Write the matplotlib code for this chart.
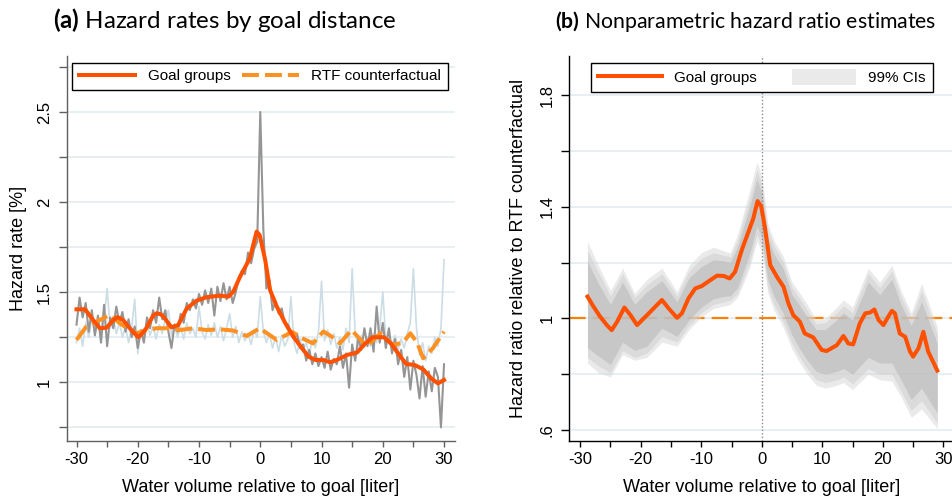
import numpy as np
import matplotlib
matplotlib.use("Agg")
import matplotlib.pyplot as plt
from matplotlib.lines import Line2D
from matplotlib.patches import Patch

plt.rcParams['font.family'] = ['Liberation Sans', 'DejaVu Sans']
plt.rcParams['mathtext.fontset'] = 'custom'
plt.rcParams['mathtext.rm'] = 'Lato'
plt.rcParams['mathtext.bf'] = 'Lato:bold'

# ---------------- Panel (a) data ----------------
raw_x = np.linspace(-30, 30, 121)
goal_raw = [1.32, 1.47, 1.36, 1.44, 1.28, 1.40, 1.26, 1.37, 1.22, 1.43, 1.20, 1.36, 1.30, 1.42,
            1.33, 1.39, 1.28, 1.35, 1.25, 1.31, 1.19, 1.29, 1.22, 1.36, 1.30, 1.40, 1.33, 1.47,
            1.35, 1.40, 1.28, 1.19, 1.32, 1.28, 1.38, 1.33, 1.44, 1.40, 1.46, 1.41, 1.49, 1.43,
            1.51, 1.44, 1.52, 1.37, 1.53, 1.45, 1.55, 1.46, 1.53, 1.44, 1.50, 1.58, 1.62, 1.60,
            1.72, 1.66, 1.74, 1.78, 2.50, 1.85, 1.52, 1.57, 1.40, 1.45, 1.38, 1.41, 1.33, 1.32,
            1.28, 1.24, 1.27, 1.19, 1.21, 1.12, 1.18, 1.10, 1.16, 1.09, 1.14, 1.08, 1.17, 1.07,
            1.13, 1.10, 1.20, 1.08, 1.16, 0.97, 1.21, 1.12, 1.25, 1.18, 1.30, 1.20, 1.30, 1.17,
            1.42, 1.22, 1.33, 1.19, 1.30, 1.16, 1.24, 1.10, 1.18, 1.03, 1.14, 0.96, 1.12, 1.04,
            0.91, 1.09, 0.92, 1.06, 0.95, 1.08, 1.03, 0.75, 1.10]
rtf_raw = [1.22, 1.30, 1.20, 1.33, 1.25, 1.36, 1.27, 1.33, 1.24, 1.35, 1.52, 1.30, 1.36, 1.27,
           1.33, 1.25, 1.31, 1.22, 1.30, 1.46, 1.16, 1.28, 1.24, 1.33, 1.26, 1.31, 1.24, 1.32,
           1.27, 1.35, 1.40, 1.26, 1.32, 1.25, 1.31, 1.24, 1.33, 1.27, 1.30, 1.25, 1.42, 1.28,
           1.24, 1.32, 1.26, 1.33, 1.25, 1.31, 1.23, 1.30, 1.38, 1.25, 1.31, 1.22, 1.28, 1.23,
           1.27, 1.21, 1.29, 1.25, 1.475, 1.28, 1.22, 1.27, 1.19, 1.25, 1.17, 1.26, 1.20, 1.24,
           1.475, 1.22, 1.16, 1.24, 1.18, 1.22, 1.15, 1.24, 1.19, 1.28, 1.56, 1.23, 1.29, 1.21,
           1.27, 1.19, 1.25, 1.18, 1.30, 1.22, 1.63, 1.27, 1.20, 1.26, 1.19, 1.25, 1.20, 1.27,
           1.22, 1.30, 1.50, 1.24, 1.28, 1.20, 1.26, 1.18, 1.24, 1.19, 1.27, 1.33, 1.63, 1.30,
           1.15, 1.22, 1.12, 1.20, 1.16, 1.25, 1.20, 1.30, 1.68]

goal_x = [-30, -28.6, -27.3, -26.2, -25.1, -24.0, -23.3, -22.4, -21.3, -20.5, -19.9, -19.3, -18.6,
          -17.5, -16.9, -16.3, -15.8, -14.5, -13.4, -12.0, -10.4, -8.8, -6.6, -5.2, -4.4, -3.3,
          -1.7, -0.6, -0.1, 0.8, 1.6, 2.7, 4.1, 5.4, 6.8, 7.9, 9.0, 10.3, 11.4, 12.5, 14.2, 15.8,
          16.9, 18.3, 20.2, 21.3, 22.7, 23.8, 25.2, 26.6, 27.9, 29.0, 30.0]
goal_y = [1.405, 1.405, 1.346, 1.30, 1.303, 1.345, 1.362, 1.346, 1.30, 1.27, 1.25, 1.27, 1.30,
          1.37, 1.383, 1.378, 1.364, 1.305, 1.318, 1.41, 1.453, 1.472, 1.481, 1.475, 1.503, 1.586,
          1.688, 1.836, 1.817, 1.679, 1.512, 1.42, 1.327, 1.253, 1.189, 1.142, 1.124, 1.124, 1.111,
          1.124, 1.152, 1.165, 1.207, 1.25, 1.25, 1.216, 1.152, 1.102, 1.096, 1.072, 1.022, 0.994,
          1.013]

rtf_x = [-30, -28.4, -26.7, -24.6, -22.9, -21.3, -20.2, -18.5, -16.9, -15.3, -13.1, -10.9, -8.8,
         -6.6, -4.4, -2.2, -0.1, 1.4, 2.7, 5.2, 6.8, 8.6, 10.3, 11.6, 13.0, 14.9, 16.0, 17.4, 19.6,
         21.7, 23.3, 24.5, 25.6, 26.6, 28.2, 30.0]
rtf_y = [1.235, 1.309, 1.337, 1.373, 1.327, 1.29, 1.272, 1.29, 1.30, 1.30, 1.29, 1.30, 1.29,
         1.294, 1.287, 1.257, 1.30, 1.265, 1.235, 1.28, 1.245, 1.216, 1.282, 1.255, 1.216, 1.29,
         1.25, 1.20, 1.272, 1.207, 1.22, 1.272, 1.22, 1.133, 1.19, 1.281]

# ---------------- Panel (b) data ----------------
hr_x = [-28.8, -27.8, -26.7, -25.6, -24.8, -23.9, -22.7, -21.7, -20.6, -19.5, -18.4, -16.5, -15.4,
        -14.0, -13.2, -12.1, -11.0, -9.9, -8.5, -7.4, -6.3, -5.3, -4.4, -3.3, -2.2, -1.4, -0.7,
        -0.1, 0.5, 1.4, 2.5, 3.6, 4.4, 5.2, 6.3, 7.1, 8.5, 9.9, 10.7, 12.4, 13.5, 14.3, 15.1, 16.2,
        17.1, 17.9, 18.6, 19.3, 20.1, 20.9, 21.5, 22.0, 22.8, 23.7, 24.5, 25.0, 25.9, 26.7, 27.5,
        28.3, 29.0]
hr_y = [1.078, 1.042, 1.006, 0.976, 0.958, 0.988, 1.039, 1.012, 0.976, 1.0, 1.024, 1.066, 1.036,
        1.002, 1.018, 1.072, 1.107, 1.116, 1.137, 1.153, 1.152, 1.143, 1.167, 1.245, 1.31, 1.358,
        1.42, 1.402, 1.328, 1.191, 1.149, 1.113, 1.054, 1.012, 0.988, 0.946, 0.932, 0.887, 0.883,
        0.904, 0.937, 0.91, 0.907, 0.982, 1.018, 1.021, 1.032, 0.994, 0.976, 1.006, 1.027, 1.018,
        0.946, 0.934, 0.881, 0.863, 0.893, 0.952, 0.881, 0.845, 0.813]

ci_x = [-28.8, -27.0, -25.0, -23.0, -21.0, -19.0, -16.5, -14.0, -12.0, -10.0, -8.0, -6.0, -5.2,
        -4.0, -2.0, -0.8, 0.0, 1.0, 2.0, 3.5, 5.0, 6.3, 7.5, 9.0, 10.5, 12.4, 13.5, 15.0, 17.6,
        19.5, 21.5, 23.0, 24.7, 26.4, 29.0]
ci99_hi = [1.275, 1.19, 1.10, 1.18, 1.09, 1.14, 1.18, 1.095, 1.19, 1.235, 1.255, 1.24, 1.235,
           1.30, 1.46, 1.56, 1.51, 1.34, 1.28, 1.225, 1.13, 1.09, 1.05, 0.995, 1.00, 1.04, 1.066,
           1.04, 1.18, 1.13, 1.19, 1.10, 1.02, 1.125, 0.97]
ci95_hi = [1.245, 1.165, 1.08, 1.16, 1.075, 1.12, 1.16, 1.08, 1.17, 1.215, 1.235, 1.225, 1.22,
           1.28, 1.43, 1.53, 1.48, 1.32, 1.26, 1.205, 1.11, 1.07, 1.03, 0.98, 0.985, 1.02, 1.045,
           1.02, 1.16, 1.11, 1.17, 1.08, 1.00, 1.10, 0.945]
ci90_hi = [1.205, 1.125, 1.05, 1.13, 1.05, 1.095, 1.135, 1.06, 1.145, 1.185, 1.21, 1.205, 1.20,
           1.255, 1.40, 1.50, 1.45, 1.29, 1.23, 1.18, 1.085, 1.045, 1.005, 0.96, 0.96, 0.995, 1.02,
           0.995, 1.13, 1.085, 1.14, 1.05, 0.975, 1.06, 0.91]
ci90_lo = [0.895, 0.865, 0.835, 0.915, 0.885, 0.90, 0.965, 0.935, 0.995, 1.04, 1.07, 1.08, 1.08,
           1.11, 1.23, 1.33, 1.29, 1.14, 1.08, 1.02, 0.94, 0.89, 0.85, 0.81, 0.80, 0.81, 0.82,
           0.80, 0.86, 0.84, 0.84, 0.78, 0.71, 0.75, 0.66]
ci95_lo = [0.86, 0.83, 0.805, 0.885, 0.86, 0.875, 0.935, 0.915, 0.975, 1.02, 1.05, 1.06, 1.065,
           1.09, 1.20, 1.30, 1.26, 1.11, 1.05, 0.99, 0.91, 0.86, 0.82, 0.78, 0.77, 0.78, 0.79,
           0.765, 0.82, 0.80, 0.80, 0.74, 0.67, 0.705, 0.625]
ci99_lo = [0.84, 0.805, 0.79, 0.87, 0.85, 0.86, 0.915, 0.90, 0.96, 1.005, 1.035, 1.045, 1.05,
           1.075, 1.18, 1.275, 1.24, 1.09, 1.03, 0.97, 0.89, 0.84, 0.80, 0.76, 0.75, 0.76, 0.77,
           0.745, 0.80, 0.78, 0.775, 0.72, 0.645, 0.675, 0.605]

# ---------------- styles ----------------
RED = '#FF5000'
ORANGE = '#FF9122'
ORANGE2 = '#FF8000'
GRID = '#E6EEF2'

fig = plt.figure(figsize=(9.53, 5.01), dpi=100)
axA = fig.add_axes([0.070, 0.1204, 0.4075, 0.768])
axB = fig.add_axes([0.5974, 0.1204, 0.4026, 0.768])


def style_axes(ax, spine_color):
    for s in ['top', 'right']:
        ax.spines[s].set_visible(False)
    for s in ['left', 'bottom']:
        ax.spines[s].set_color(spine_color)
        ax.spines[s].set_linewidth(1.0)
    ax.tick_params(axis='both', which='both', colors=spine_color, labelcolor='black',
                   labelsize=12, width=1.0)
    ax.tick_params(axis='y', which='both', length=5.8, pad=5)
    ax.tick_params(axis='x', which='both', length=4.5, pad=3.5)
    ax.set_xticks([-30, -20, -10, 0, 10, 20, 30])
    ax.set_xticklabels(['-30', '-20', '-10', '0', '10', '20', '30'])
    ax.set_xticks([-25, -15, -5, 5, 15, 25], minor=True)


# ---- Panel (a)
axA.plot(raw_x, rtf_raw, color='#CCDDE6', lw=1.2, zorder=2)
axA.plot(raw_x, goal_raw, color='#959595', lw=1.5, zorder=3)
axA.plot(rtf_x, rtf_y, color=ORANGE, lw=2.9, dashes=(4.2, 1.5), zorder=4)
axA.plot(goal_x, goal_y, color=RED, lw=2.9, zorder=5, solid_joinstyle='round')
axA.set_xlim(-31.6, 31.8)
axA.set_ylim(0.676, 2.811)
style_axes(axA, '#606060')
axA.set_yticks([1, 1.5, 2, 2.5])
axA.set_yticklabels(['1', '1.5', '2', '2.5'])
axA.set_yticks([0.75, 1.25, 1.75, 2.25, 2.75], minor=True)
for y in [0.75, 1, 1.25, 1.5, 1.75, 2, 2.25, 2.5, 2.75]:
    axA.axhline(y, color=GRID, lw=1.3, zorder=0)
for lab in axA.get_yticklabels():
    lab.set_rotation(90)
    lab.set_va('center')
axA.set_xlabel('Water volume relative to goal [liter]', fontsize=13)
axA.set_ylabel('Hazard rate [%]', fontsize=13)
axA.xaxis.set_label_coords(0.5, -0.10)
axA.yaxis.set_label_coords(-0.102, 0.5)
hA = [Line2D([], [], color=RED, lw=2.9),
      Line2D([], [], color=ORANGE, lw=2.9, dashes=(4.2, 1.5))]
legA = axA.legend(hA, ['Goal groups', 'RTF counterfactual'], ncol=2, loc='upper left',
                  bbox_to_anchor=(0.0137, 0.903, 0.968, 0.0796), mode='expand',
                  fontsize=11, frameon=True, fancybox=False, framealpha=1, edgecolor='black',
                  handlelength=3.7, borderaxespad=0, borderpad=0.45, handletextpad=0.8,
                  columnspacing=1.0)
legA.get_frame().set_linewidth(1.0)

# ---- Panel (b)
axB.axhline(1.0, color=ORANGE2, lw=1.6, dashes=(7.5, 3.2), zorder=1)
axB.fill_between(ci_x, ci99_lo, ci99_hi, color='#D7D7D7', alpha=0.5, lw=0, zorder=2)
axB.fill_between(ci_x, ci95_lo, ci95_hi, color='#CDCDCD', alpha=0.5, lw=0, zorder=2)
axB.fill_between(ci_x, ci90_lo, ci90_hi, color='#B4B4B4', alpha=0.5, lw=0, zorder=2)
axB.axvline(0, color='#8A8A8A', lw=1.0, ls=(0, (1, 1.5)), zorder=3)
axB.plot(hr_x, hr_y, color=RED, lw=2.9, zorder=5, solid_joinstyle='round')
axB.set_xlim(-31.8, 31.6)
axB.set_ylim(0.562, 1.94)
style_axes(axB, 'black')
axB.set_yticks([0.6, 1.0, 1.4, 1.8])
axB.set_yticklabels(['.6', '1', '1.4', '1.8'])
axB.set_yticks([0.8, 1.2, 1.6], minor=True)
for y in [0.6, 0.8, 1.0, 1.2, 1.4, 1.6, 1.8]:
    axB.axhline(y, color=GRID, lw=1.3, zorder=0)
for lab in axB.get_yticklabels():
    lab.set_rotation(90)
    lab.set_va('center')
axB.set_xlabel('Water volume relative to goal [liter]', fontsize=13)
axB.set_ylabel('Hazard ratio relative to RTF counterfactual', fontsize=13)
axB.xaxis.set_label_coords(0.5, -0.10)
axB.yaxis.set_label_coords(-0.110, 0.5)
hB = [Line2D([], [], color=RED, lw=2.9), Patch(facecolor='#EAEAEA', edgecolor='none')]
legB = axB.legend(hB, ['Goal groups', '99% CIs'], ncol=2, loc='upper left',
                  bbox_to_anchor=(0.0558, 0.903, 0.891, 0.0796), mode='expand',
                  fontsize=11, frameon=True, fancybox=False, framealpha=1, edgecolor='black',
                  handlelength=4.2, handleheight=1.2, borderaxespad=0, borderpad=0.45,
                  handletextpad=0.8, columnspacing=1.0)
legB.get_frame().set_linewidth(1.0)

# ---- Titles (font size fitted to the reference title widths)
renderer = fig.canvas.get_renderer()
titles = [(53, 397, r'$\mathbf{(a)}$ Hazard rates by goal distance'),
          (555, 937, r'$\mathbf{(b)}$ Nonparametric hazard ratio estimates')]
for x0, x1, s in titles:
    t = fig.text(x0 / 953, 1 - 28.3 / 501, s, fontsize=15, family='Lato',
                 va='baseline', ha='left')
    w = t.get_window_extent(renderer).width
    t.set_fontsize(min(17.5, 15 * (x1 - x0) / w))

fig.savefig('out.png', dpi=100)
